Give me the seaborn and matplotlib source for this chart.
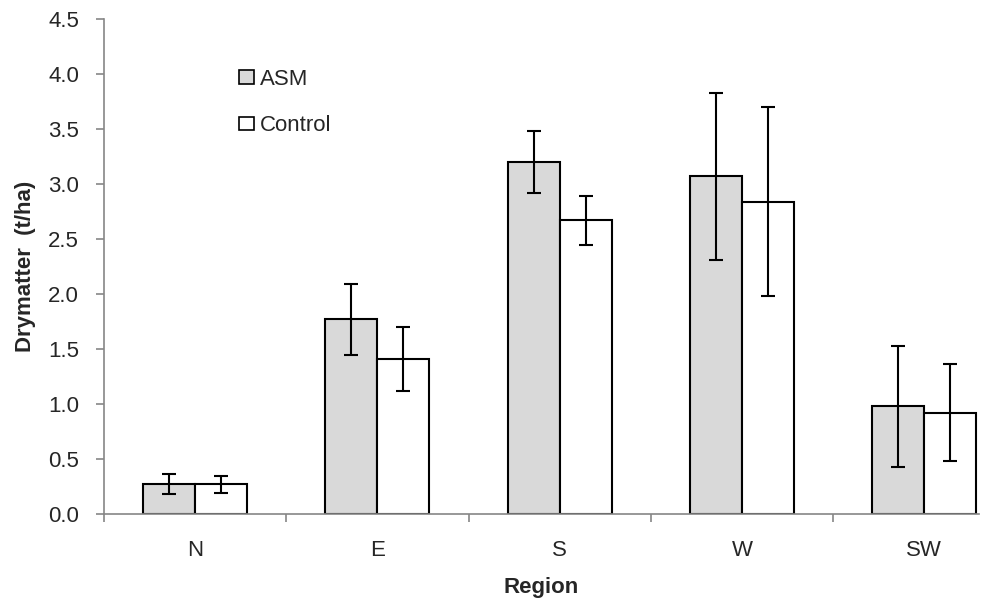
import seaborn as sns
import matplotlib.pyplot as plt
import pandas as pd
import numpy as np
from matplotlib.patches import Patch

regions = ['N', 'E', 'S', 'W', 'SW']
asm_mean = [0.27, 1.77, 3.20, 3.07, 0.98]
asm_err = [0.09, 0.32, 0.28, 0.76, 0.55]
control_mean = [0.27, 1.41, 2.67, 2.84, 0.92]
control_err = [0.08, 0.29, 0.22, 0.86, 0.44]
treatments = ['ASM', 'Control']
colors = {'ASM': '#d9d9d9', 'Control': '#ffffff'}

df = pd.DataFrame({
    'Region': regions * 2,
    'Treatment': ['ASM'] * 5 + ['Control'] * 5,
    'value': asm_mean + control_mean,
    'err': asm_err + control_err,
})

sns.set_style('white')
plt.rcParams['font.family'] = ['Liberation Sans', 'DejaVu Sans']

fig = plt.figure(figsize=(10.06, 6.05), dpi=100)
ax = fig.add_axes([104 / 1006, 91 / 605, 875 / 1006, 495 / 605])

sns.barplot(data=df, x='Region', y='value', hue='Treatment', order=regions,
            hue_order=treatments, palette=colors, width=0.57, gap=0,
            edgecolor='black', linewidth=1.5, ax=ax, legend=False, errorbar=None)

# error bars centred on each bar
for t_i, t in enumerate(treatments):
    sub = df[df['Treatment'] == t]
    bars = ax.patches[t_i * 5:(t_i + 1) * 5]
    xs = [b.get_x() + b.get_width() / 2 for b in bars]
    ax.errorbar(xs, sub['value'], yerr=sub['err'], fmt='none', ecolor='black',
                elinewidth=1.5, capsize=4.7, capthick=1.5)

ax.set_ylim(0, 4.5)
ax.set_xlim(-0.5, 4.3)
ax.set_yticks(np.arange(0, 4.51, 0.5))
ax.set_yticklabels([f'{v:.1f}' for v in np.arange(0, 4.51, 0.5)])
ax.set_xticks(range(5))
ax.set_xticklabels(regions)
ax.set_xticks([-0.5, 0.5, 1.5, 2.5, 3.5], minor=True)
ax.tick_params(axis='x', which='major', bottom=True, length=0, labelsize=16, pad=19)
ax.tick_params(axis='x', which='minor', bottom=True, length=6, color='#868686',
               width=1.2, direction='out')
ax.tick_params(axis='y', left=True, length=6, color='#868686', width=1.2,
               direction='out', labelsize=16, pad=12)

for s in ['top', 'right']:
    ax.spines[s].set_visible(False)
for s in ['left', 'bottom']:
    ax.spines[s].set_color('#868686')
    ax.spines[s].set_linewidth(1.2)

ax.set_xlabel('Region', fontsize=16, fontweight='bold', labelpad=11)
ax.set_ylabel('Drymatter  (t/ha)', fontsize=16, fontweight='bold', labelpad=9)

handles = [Patch(facecolor=colors[t], edgecolor='black', linewidth=1.2) for t in treatments]
ax.legend(handles, treatments, loc='upper left', bbox_to_anchor=(0.131, 0.94),
          frameon=False, fontsize=16, handlelength=0.7, handleheight=0.55,
          handletextpad=0.25, labelspacing=1.15)

fig.savefig('out.png', dpi=100)
